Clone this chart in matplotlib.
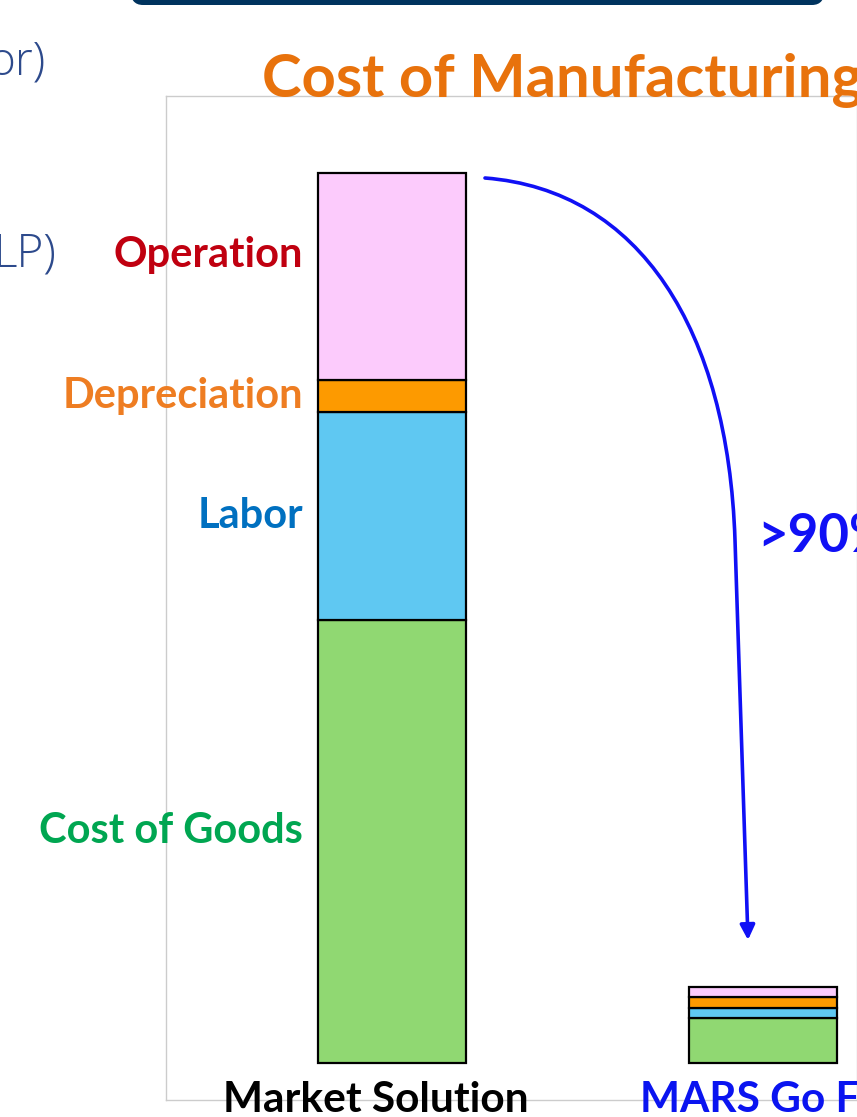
import numpy as np
import matplotlib.pyplot as plt
from matplotlib.patches import FancyBboxPatch, FancyArrowPatch
from matplotlib.path import Path

plt.rcParams['font.family'] = ['Lato', 'DejaVu Sans']

W, H = 857, 1117

# data (relative cost, market solution total = 100)
categories = ['Market Solution', 'MARS Go Factory']
components = ['Cost of Goods', 'Labor', 'Depreciation', 'Operation']
cost_of_goods = [49.8, 5.1]
labor = [23.4, 1.1]
depreciation = [3.5, 1.2]
operation = [23.3, 1.1]
reduction_label = '>90%'
title = 'Cost of Manufacturing'

bar_colors = ['#90d872', '#5fc8f2', '#fd9a00', '#fccbfc']
label_colors = ['#00a651', '#0070c0', '#ee7d22', '#c00010']
label_nudge = [1.2, 0, 0, 2.4]   # small vertical shifts of the side labels


def fx(px):
    return px / W


def fy(py):
    return 1 - py / H


fig = plt.figure(figsize=(W / 100, H / 100), dpi=100)
fig.patch.set_facecolor('white')

# dark banner at the very top (bottom edge only visible)
banner = FancyBboxPatch((fx(130), fy(5)), fx(825) - fx(130), 0.05,
                        boxstyle='round,pad=0,rounding_size=0.015',
                        transform=fig.transFigure, fc='#00335e', ec='none')
fig.patches.append(banner)

# fragments of slide text at left edge
fig.text(fx(46), fy(62), 'or)', ha='right', va='center', fontsize=33,
         color='#2d4a8c', family=['Open Sans', 'DejaVu Sans'], fontweight='light')
fig.text(fx(56), fy(255), 'LP)', ha='right', va='center', fontsize=33,
         color='#2d4a8c', family=['Open Sans', 'DejaVu Sans'], fontweight='light')

ax = fig.add_axes([fx(166), fy(1100), fx(857) - fx(166), fy(96) - fy(1100)])
ax.set_xlim(-0.609, 1.253)
ax.set_ylim(-4.16, 108.65)
for s in ax.spines.values():
    s.set_color('#cccccc')
    s.set_linewidth(1)
ax.set_xticks([])
ax.set_yticks([])

x = np.arange(len(categories))
stack = np.array([cost_of_goods, labor, depreciation, operation])
bottoms = np.vstack([np.zeros(len(categories)), np.cumsum(stack, axis=0)[:-1]])
width = 0.399
for i in range(len(components)):
    ax.bar(x, stack[i], width, bottom=bottoms[i], color=bar_colors[i],
           edgecolor='black', linewidth=1.6, zorder=3)

# component labels left of the first bar
for i, name in enumerate(components):
    yc = bottoms[i][0] + stack[i][0] / 2 + label_nudge[i]
    ax.text(x[0] - width / 2 - 0.04, yc, name, ha='right', va='center',
            fontsize=30, fontweight='bold', color=label_colors[i])

# category labels
ax.text(x[0] - 0.043, 0, categories[0], transform=ax.get_xaxis_transform(),
        ha='center', va='center', fontsize=30.5, fontweight='bold', color='black',
        clip_on=False)
ax.text(x[1] - 0.332, 0, categories[1], transform=ax.get_xaxis_transform(),
        ha='left', va='center', fontsize=30.5, fontweight='bold', color='#0a14f0',
        clip_on=False)

# title
fig.text(fx(262), fy(80), title, ha='left', va='center', fontsize=43,
         fontweight='bold', color='#e8720c')

# reduction arrow
verts = [(485, 178), (640, 190), (728, 330), (735, 540), (748, 940)]
verts = [(fx(a), fy(b)) for a, b in verts]
codes = [Path.MOVETO, Path.CURVE4, Path.CURVE4, Path.CURVE4, Path.LINETO]
arrow = FancyArrowPatch(path=Path(verts, codes), arrowstyle='-|>',
                        mutation_scale=22, color='#1010f5', lw=2.6,
                        transform=fig.transFigure)
fig.patches.append(arrow)
fig.text(fx(757), fy(536), reduction_label, ha='left', va='center',
         fontsize=38, fontweight='bold', color='#1010f5')

fig.savefig('out.png', dpi=100)
